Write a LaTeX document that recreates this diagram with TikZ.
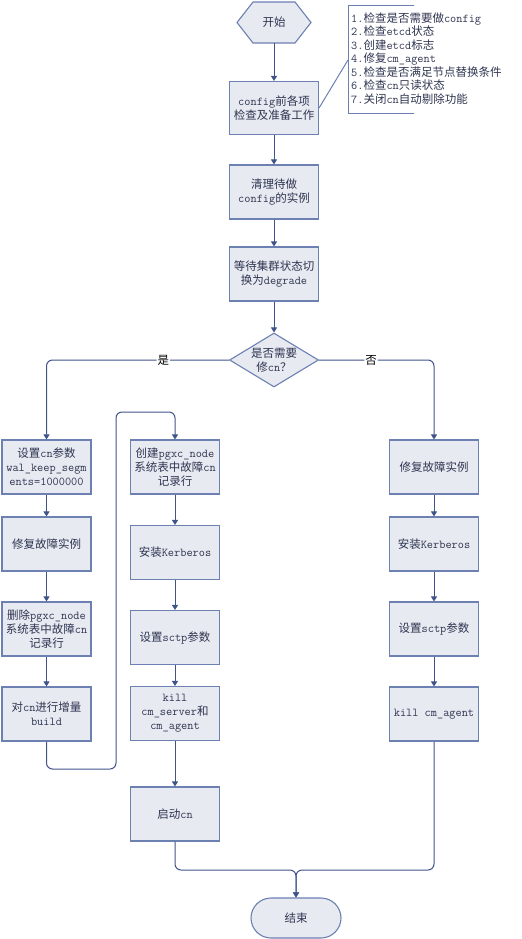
\documentclass[tikz,border=0pt]{standalone}
\usepackage{fontspec}
\setmainfont{Noto Sans CJK SC}
\usetikzlibrary{shapes.geometric,arrows.meta,calc}
\definecolor{boxfill}{HTML}{E8EAF2}
\definecolor{boxline}{HTML}{6C80B2}
\definecolor{arr}{HTML}{40548A}
\definecolor{txt}{HTML}{2E3550}
\newcommand{\tl}[1]{{\ttfamily\fontsize{12bp}{14bp}\selectfont #1}}
\begin{document}
\begin{tikzpicture}[x=1bp,y=-1bp,
 every node/.style={font=\fontsize{11.5bp}{14bp}\selectfont, text=txt},
 box/.style={draw=boxline, fill=boxfill, line width=1.1bp, minimum width=89bp, minimum height=54bp, align=center, inner sep=1bp},
 arrow/.style={draw=arr, line width=1bp, rounded corners=6bp, -{Triangle[length=5bp,width=6bp]}},
 lbl/.style={fill=white, inner sep=1bp, text=black}
]
\useasboundingbox (0,0) rectangle (522,939);

% start
\draw[draw=boxline, fill=boxfill, line width=1.1bp] (237,22.5) -- (253,2) -- (295,2) -- (311,22.5) -- (295,43) -- (253,43) -- cycle;
\node (start) [minimum width=74bp, minimum height=41bp, inner sep=0] at (274,22.5) {开始};

\node (cfg) [box, minimum height=53bp] at (274,108) {\tl{config}前各项\\检查及准备工作};
\node (clean) [box] at (274,192) {清理待做\\\tl{config}的实例};
\node (wait) [box] at (274,274) {等待集群状态切\\换为\tl{degrade}};
\node (dec) [diamond, draw=boxline, fill=boxfill, line width=1.1bp, aspect=1.65, inner sep=0pt, minimum width=89bp, minimum height=54bp, align=center] at (274,360) {是否需要\\修\tl{cn}？};

% note
\draw[draw=boxline, line width=1bp] (414,5) -- (348,5) -- (348,113) -- (414,113);
\coordinate (nb) at (348,60);
\node (note) [anchor=west, align=left, inner sep=0pt, font=\fontsize{11.5bp}{13.5bp}\selectfont] at (351,58.5)
 {\tl{1.}检查是否需要做\tl{config}\\
  \tl{2.}检查\tl{etcd}状态\\
  \tl{3.}创建\tl{etcd}标志\\
  \tl{4.}修复\tl{cm\_agent}\\
  \tl{5.}检查是否满足节点替换条件\\
  \tl{6.}检查\tl{cn}只读状态\\
  \tl{7.}关闭\tl{cn}自动剔除功能};
\draw[draw=boxline, line width=1bp] (nb) -- (cfg.east);

% left column
\node (L1) [box] at (46.5,467) {设置\tl{cn}参数\\\tl{wal\_keep\_segm}\\\tl{ents=1000000}};
\node (L2) [box] at (46.5,544) {修复故障实例};
\node (L3) [box] at (46.5,629) {删除\tl{pgxc\_node}\\系统表中故障\tl{cn}\\记录行};
\node (L4) [box] at (46.5,714) {对\tl{cn}进行增量\\\tl{build}};

% middle column
\node (M1) [box] at (175,467) {创建\tl{pgxc\_node}\\系统表中故障\tl{cn}\\记录行};
\node (M2) [box] at (175,552.5) {安装\tl{Kerberos}};
\node (M3) [box] at (175,637.5) {设置\tl{sctp}参数};
\node (M4) [box] at (175,713.5) {\tl{kill}\\\tl{cm\_server}和\\\tl{cm\_agent}};
\node (M5) [box] at (175,814) {启动\tl{cn}};

% right column
\node (R1) [box] at (434,467) {修复故障实例};
\node (R2) [box] at (434,544) {安装\tl{Kerberos}};
\node (R3) [box] at (434,629) {设置\tl{sctp}参数};
\node (R4) [box] at (434,714) {\tl{kill cm\_agent}};

% end
\node (endn) [draw=boxline, fill=boxfill, line width=1.1bp, rounded corners=20bp, minimum width=90bp, minimum height=40bp] at (296,918) {结束};

% connectors
\draw[arrow] (start.south) -- (cfg.north);
\draw[arrow] (cfg.south) -- (clean.north);
\draw[arrow] (clean.south) -- (wait.north);
\draw[arrow] (wait.south) -- (dec.north);
\draw[arrow] (dec.west) -| node[lbl, pos=0.18] {是} (L1.north);
\draw[arrow] (dec.east) -| node[lbl, pos=0.226] {否} (R1.north);

\draw[arrow] (L1.south) -- (L2.north);
\draw[arrow] (L2.south) -- (L3.north);
\draw[arrow] (L3.south) -- (L4.north);
\coordinate (lp1) at (46.5,769);
\coordinate (lp2) at (116,412);
\draw[arrow] (L4.south) -- (lp1) -| (lp2) -| (M1.north);

\draw[arrow] (M1.south) -- (M2.north);
\draw[arrow] (M2.south) -- (M3.north);
\draw[arrow] (M3.south) -- (M4.north);
\draw[arrow] (M4.south) -- (M5.north);

\draw[arrow] (R1.south) -- (R2.north);
\draw[arrow] (R2.south) -- (R3.north);
\draw[arrow] (R3.south) -- (R4.north);

\coordinate (mj) at (296,870);
\draw[arrow] (M5.south) |- (mj) -- (endn.north);
\draw[arrow] (R4.south) |- (mj) -- (endn.north);
\end{tikzpicture}
\end{document}
